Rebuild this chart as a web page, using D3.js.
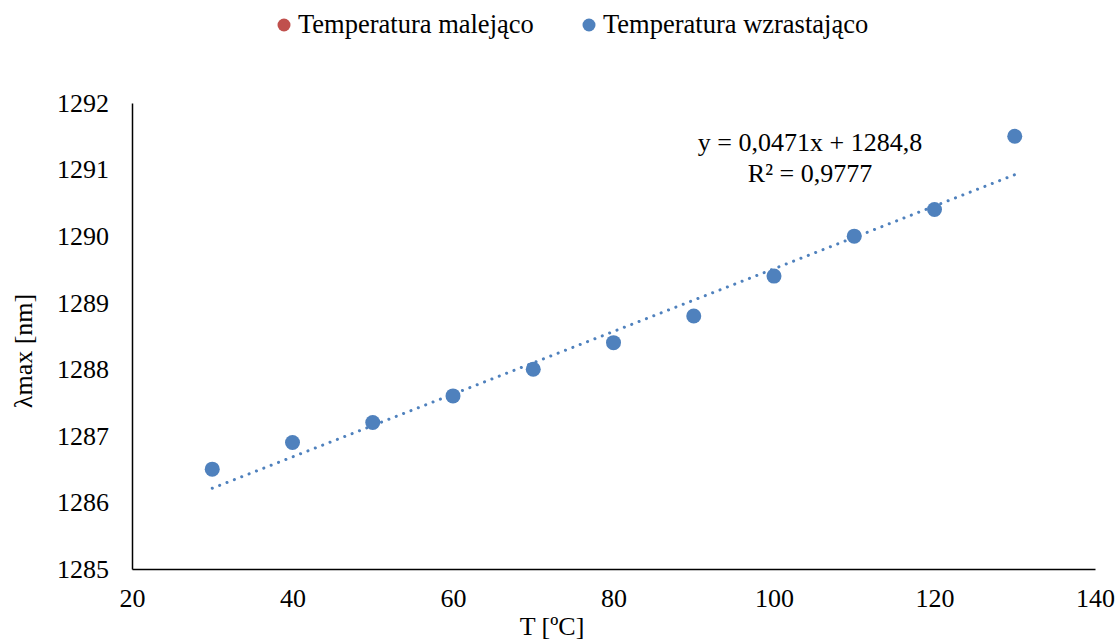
<!DOCTYPE html>
<html>
<head>
<meta charset="utf-8">
<script src="https://cdn.jsdelivr.net/npm/d3@7"></script>
<style>
body{margin:0;background:#fff;}
svg text{font-family:"Liberation Serif","Times New Roman",serif;fill:#000;}
</style>
</head>
<body>
<svg id="c" width="1118" height="640"></svg>
<script>
const temps = [30, 40, 50, 60, 70, 80, 90, 100, 110, 120, 130];
const lambdaUp = [1286.5, 1286.9, 1287.2, 1287.6, 1288.0, 1288.4, 1288.8, 1289.4, 1290.0, 1290.4, 1291.5];
const lambdaDown = [];
const xTicks = [20, 40, 60, 80, 100, 120, 140];
const yTicks = [1285, 1286, 1287, 1288, 1289, 1290, 1291, 1292];
const trendSlope = 0.0471, trendIntercept = 1284.8;
const trendRange = [30, 130];
const seriesNames = ["Temperatura malejąco", "Temperatura wzrastająco"];
const seriesColors = ["#c0504d", "#4f81bd"];

const FONT = '"Liberation Serif","Times New Roman",serif';
const FS = "26px";
const svg = d3.select("#c").attr("font-family", FONT);
const x = d3.scaleLinear().domain([20, 140]).range([132, 1095]);
const y = d3.scaleLinear().domain([1285, 1292]).range([569, 103]);

// axes
const xAxis = svg.append("g").attr("transform", `translate(0,${y(1285)})`)
  .call(d3.axisBottom(x).tickValues(xTicks).tickFormat(d3.format("d")).tickSize(0).tickPadding(20));
xAxis.attr("font-family", FONT).attr("font-size", 26);
xAxis.select(".domain").attr("stroke", "#000").attr("stroke-width", 1.5);
xAxis.selectAll("text").style("font-size", FS).style("font-family", FONT);

const yAxis = svg.append("g").attr("transform", `translate(${x(20)},0)`)
  .call(d3.axisLeft(y).tickValues(yTicks).tickFormat(d3.format("d")).tickSize(0).tickPadding(23));
yAxis.attr("font-family", FONT).attr("font-size", 26);
yAxis.select(".domain").attr("stroke", "#000").attr("stroke-width", 1.5);
yAxis.selectAll("text").style("font-size", FS).style("font-family", FONT);

// trendline
svg.append("line")
  .attr("x1", x(trendRange[0])).attr("y1", y(trendSlope * trendRange[0] + trendIntercept))
  .attr("x2", x(trendRange[1])).attr("y2", y(trendSlope * trendRange[1] + trendIntercept))
  .attr("stroke", seriesColors[1]).attr("stroke-width", 3)
  .attr("stroke-linecap", "round").attr("stroke-dasharray", "0.1 7.8");

// points
svg.append("g").selectAll("circle").data(lambdaDown).join("circle")
  .attr("cx", (d, i) => x(temps[i])).attr("cy", d => y(d)).attr("r", 7.5).attr("fill", seriesColors[0]);
svg.append("g").selectAll("circle").data(lambdaUp).join("circle")
  .attr("cx", (d, i) => x(temps[i])).attr("cy", d => y(d)).attr("r", 7.5).attr("fill", seriesColors[1]);

// equation
svg.append("text").attr("x", 810).attr("y", 151).attr("text-anchor", "middle")
  .style("font-size", FS).text("y = 0,0471x + 1284,8");
svg.append("text").attr("x", 810).attr("y", 182).attr("text-anchor", "middle")
  .style("font-size", FS).text("R² = 0,9777");

// axis titles
svg.append("text").attr("x", 552).attr("y", 635).attr("text-anchor", "middle")
  .style("font-size", FS).text("T [ºC]");
svg.append("text").attr("transform", "translate(32,351) rotate(-90)").attr("text-anchor", "middle")
  .style("font-size", FS).text("λmax [nm]");

// legend
const legendPos = [[284, 298], [589, 603]];
seriesNames.forEach((n, i) => {
  svg.append("circle").attr("cx", legendPos[i][0]).attr("cy", 25).attr("r", 6.5).attr("fill", seriesColors[i]);
  svg.append("text").attr("x", legendPos[i][1]).attr("y", 33).style("font-size", "26.5px").text(n);
});
</script>
</body>
</html>
